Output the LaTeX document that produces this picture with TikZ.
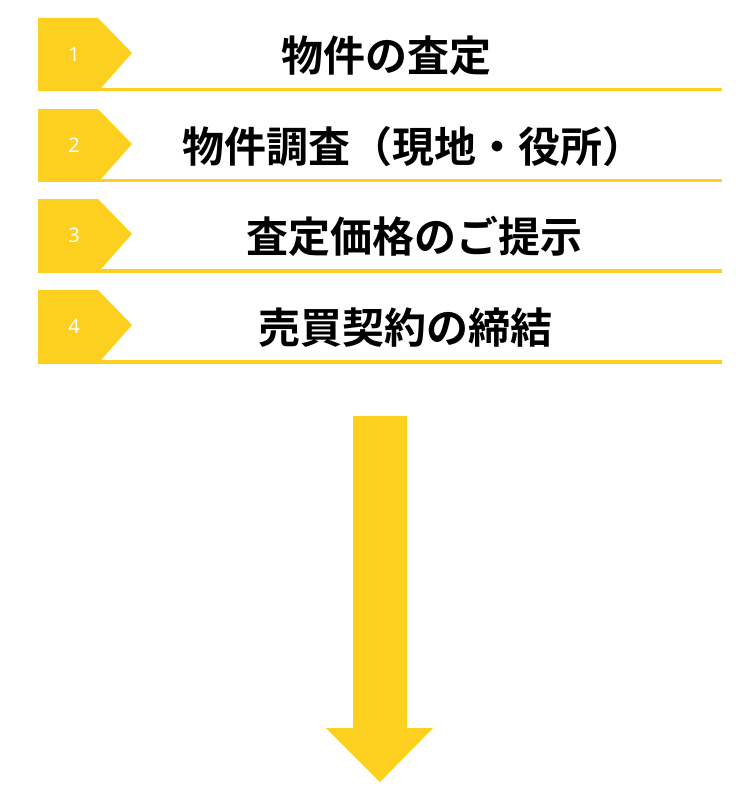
\documentclass[tikz,border=0pt]{standalone}
\usepackage{fontspec}
\usepackage{xcolor}
\setmainfont{Noto Sans CJK JP}[BoldFont={Noto Sans CJK JP Bold}]
\newfontfamily\numfont{Noto Sans}
\definecolor{stepyellow}{RGB}{253,208,31}
\tikzstyle{badge} = [fill=stepyellow]
\tikzstyle{num} = [text=white, font=\numfont\fontsize{20}{20}\selectfont, inner sep=0pt]
\tikzstyle{title} = [font=\fontsize{42}{42}\selectfont\bfseries, anchor=base west, inner sep=0pt]
\tikzstyle{rule} = [draw=stepyellow, line width=3.5pt]

\begin{document}
\begin{tikzpicture}[x=1pt, y=-1pt]
    \useasboundingbox (0,0) rectangle (750,800);
    % Badges
    \fill [badge] (38,18) -- (98,18) -- (132,53) -- (101,88) -- (38,88) -- cycle;
    \fill [badge] (38,109) -- (98,109) -- (132,144) -- (101,179) -- (38,179) -- cycle;
    \fill [badge] (38,199) -- (98,199) -- (132,234) -- (101,269) -- (38,269) -- cycle;
    \fill [badge] (38,290) -- (98,290) -- (132,325) -- (101,360) -- (38,360) -- cycle;
    % Underlines
    \draw [rule] (38,89.5) -- (722,89.5);
    \draw [rule] (38,180.5) -- (722,180.5);
    \draw [rule] (38,271) -- (722,271);
    \draw [rule] (38,362) -- (722,362);
    % Place nodes
    \node [num] (n1) at (74,54.5) {1};
    \node [num] (n2) at (74,145.5) {2};
    \node [num] (n3) at (74,235.5) {3};
    \node [num] (n4) at (74,326.5) {4};
    \node [title] (appraisal) at (281,71) {物件の査定};
    \node [title] (survey) at (182,162) {物件調査（現地・役所）};
    \node [title] (price) at (246,252) {査定価格のご提示};
    \node [title] (contract) at (258,343) {売買契約の締結};
    % Big arrow
    \fill [badge] (353,416) -- (407,416) -- (407,728) -- (433,728) -- (380,782)
        -- (326,728) -- (353,728) -- cycle;
\end{tikzpicture}
\end{document}
